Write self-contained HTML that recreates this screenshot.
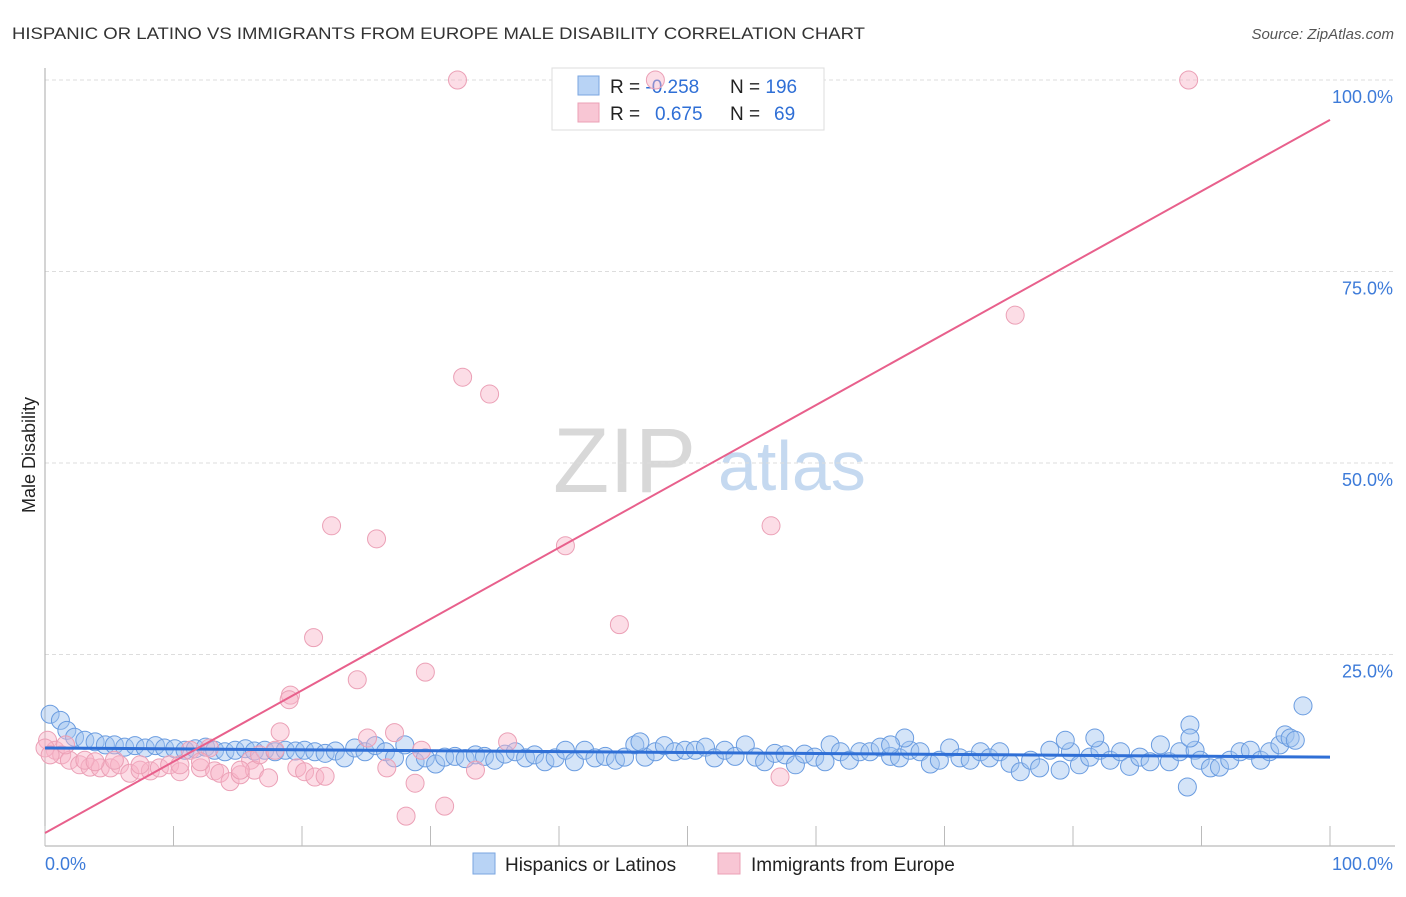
<!DOCTYPE html>
<html><head><meta charset="utf-8"><style>
body{margin:0;background:#fff;font-family:"Liberation Sans",sans-serif;}
svg text{font-family:"Liberation Sans",sans-serif;}
</style></head><body>
<svg id="chart" width="1406" height="892" viewBox="0 0 1406 892" xmlns="http://www.w3.org/2000/svg">
<text x="12" y="39" font-size="17" fill="#333" textLength="853" lengthAdjust="spacingAndGlyphs">HISPANIC OR LATINO VS IMMIGRANTS FROM EUROPE MALE DISABILITY CORRELATION CHART</text>
<text x="1394" y="39" font-size="15" fill="#555" font-style="italic" text-anchor="end">Source: ZipAtlas.com</text>
<g>
<text x="553" y="492" font-size="92" fill="#d8d8d8" font-family="Liberation Serif,serif">ZIP</text>
<text x="718" y="490" font-size="70" fill="#c5d9f0">atlas</text>
</g>
<g id="grid"></g>
<g id="axes"></g>
<g>
<rect x="552" y="68" width="272" height="62" fill="#fff" stroke="#ddd"/>
<rect x="578" y="76" width="21" height="19" fill="#b8d3f5" stroke="#7aa6e0"/>
<rect x="578" y="103" width="21" height="19" fill="#f8c6d4" stroke="#eba0b6"/>
<text x="610" y="93" font-size="19" fill="#222">R = <tspan fill="#2f6fd6">-0.258</tspan><tspan x="730">N = </tspan><tspan fill="#2f6fd6">196</tspan></text>
<text x="610" y="120" font-size="19" fill="#222">R = <tspan x="655" fill="#2f6fd6">0.675</tspan><tspan x="730">N = </tspan><tspan x="774" fill="#2f6fd6">69</tspan></text>
</g>
<g id="blue"></g>
<g id="pink"></g>
<g id="trends"></g>
<text x="35" y="455" font-size="18" fill="#222" transform="rotate(-90 35 455)" text-anchor="middle">Male Disability</text>
<g>
<rect x="473" y="853" width="22" height="21" fill="#b8d3f5" stroke="#7aa6e0"/>
<text x="505" y="871" font-size="19" fill="#222">Hispanics or Latinos</text>
<rect x="718" y="853" width="22" height="21" fill="#f8c6d4" stroke="#eba0b6"/>
<text x="751" y="871" font-size="19" fill="#222">Immigrants from Europe</text>
</g>
</svg>
<script>
const blueX=[0.4,1.2,1.7,2.3,3.1,3.9,4.7,5.4,6.2,7.0,7.8,8.6,9.3,10.1,10.9,11.7,12.5,13.2,14.0,14.8,15.6,16.3,17.1,17.9,18.7,19.5,20.2,21.0,21.8,22.6,23.3,24.1,24.9,25.7,26.5,27.2,28.0,28.8,29.6,30.4,31.1,31.9,32.7,33.5,34.2,35.0,35.8,36.6,37.4,38.1,38.9,39.7,40.5,41.2,42.0,42.8,43.6,44.4,45.1,45.9,46.7,47.5,48.2,49.0,49.8,50.6,51.4,52.1,52.9,53.7,54.5,55.3,56.0,56.8,57.6,58.4,59.1,59.9,60.7,61.1,61.9,62.6,63.4,64.2,65.0,65.8,66.5,67.3,68.1,68.9,69.6,70.4,71.2,72.0,72.8,73.5,74.3,75.1,75.9,76.7,77.4,78.2,79.0,79.8,80.5,81.3,82.1,82.9,83.7,84.4,85.2,86.0,86.8,87.5,88.3,88.9,89.1,89.5,89.9,90.7,91.4,92.2,93.0,93.8,94.6,95.3,96.1,96.5,96.9,97.3,97.9,89.1,79.4,81.7,66.9,65.8,46.3];
const blueY=[17.2,16.4,15.1,14.2,13.8,13.6,13.2,13.2,12.9,13.1,12.8,13.1,12.8,12.7,12.5,12.7,12.9,12.5,12.3,12.5,12.7,12.4,12.5,12.3,12.5,12.4,12.5,12.3,12.1,12.4,11.5,12.8,12.3,13.1,12.3,11.5,13.2,11.0,11.5,10.7,11.6,11.7,11.4,11.9,11.7,11.2,12.0,12.3,11.5,11.9,11.0,11.5,12.5,11.0,12.5,11.5,11.7,11.2,11.6,13.2,11.6,12.3,13.1,12.3,12.5,12.5,12.9,11.5,12.5,11.7,13.2,11.6,11.0,12.1,11.9,10.6,12.0,11.6,11.0,13.2,12.3,11.2,12.3,12.3,12.9,11.7,11.5,12.5,12.3,10.7,11.2,12.8,11.5,11.2,12.3,11.5,12.3,10.8,9.7,11.2,10.2,12.5,9.9,12.3,10.6,11.6,12.5,11.2,12.3,10.4,11.6,11.0,13.2,11.0,12.3,7.7,15.8,12.5,11.2,10.2,10.3,11.2,12.3,12.5,11.2,12.3,13.2,14.5,14.1,13.8,18.3,14.1,13.8,14.1,14.1,13.2,13.6];
const pinkX=[0.2,0.8,1.3,1.9,2.7,3.5,4.3,5.1,5.8,6.6,7.4,8.2,8.9,9.7,10.5,11.3,12.1,12.8,13.2,13.6,14.4,15.2,16.0,16.3,16.7,17.4,17.9,18.3,19.1,19.0,19.6,20.2,21.0,21.8,20.9,22.3,24.3,25.1,25.8,26.6,27.2,28.1,28.8,29.6,29.3,31.1,32.1,32.5,33.5,34.6,36.0,40.5,44.7,47.5,56.5,57.2,75.5,89.0,0,0.4,1.6,3.1,3.9,7.4,10.5,12.1,15.2,5.4];
const pinkY=[13.8,12.5,11.9,11.2,10.6,10.3,10.2,10.2,10.6,9.5,9.9,9.8,10.2,10.6,9.7,12.5,10.2,12.8,9.8,9.5,8.4,9.3,11.2,9.9,11.9,8.9,12.5,14.9,19.7,19.1,10.2,9.7,9.0,9.1,27.2,41.8,21.7,14.1,40.1,10.2,14.8,3.9,8.2,22.7,12.5,5.2,100,61.2,9.9,59.0,13.6,39.2,28.9,100,41.8,9.0,69.3,100,12.8,11.9,13.2,11.2,11.0,10.6,10.6,11.0,9.9,11.2];
const blueTrend=[12.8,11.6];
const pinkTrend=[1.7,94.8];
const yTicks=[25,50,75,100];
const yTickLabels=["25.0%","50.0%","75.0%","100.0%"];
const xTicks=[0,10,20,30,40,50,60,70,80,90,100];
const X0=45,X1=1330,Y0=846,Y1=80;
const sx=v=>X0+(X1-X0)*v/100, sy=v=>Y0-(Y0-Y1)*v/100;
const NS="http://www.w3.org/2000/svg";
function mk(tag,attrs,parent){const e=document.createElementNS(NS,tag);for(const k in attrs)e.setAttribute(k,attrs[k]);parent.appendChild(e);return e;}
const grid=document.getElementById('grid'),axes=document.getElementById('axes');
yTicks.forEach((t,i)=>{
 const l=mk('line',{x1:X0,x2:1395,y1:sy(t),y2:sy(t),stroke:'#ddd','stroke-dasharray':'4,3'},grid);
 
 
 const tx=mk('text',{x:1393,y:sy(t)+23,'font-size':18,fill:'#3d7bd9','text-anchor':'end'},axes);
 tx.textContent=yTickLabels[i];
 
 
});
const ya=mk('line',{x1:X0,x2:X0,y1:68,y2:Y0,stroke:'#aaa'},axes);


const xa=mk('line',{x1:X0,x2:1395,y1:Y0,y2:Y0,stroke:'#aaa'},axes);


xTicks.forEach(t=>{
 const l=mk('line',{x1:sx(t),x2:sx(t),y1:Y0-20,y2:Y0,stroke:'#bbb'},axes);
 
 
});
[[0,'0.0%','start',45],[100,'100.0%','end',1393]].forEach(a=>{
 const tx=mk('text',{x:a[3],y:870,'font-size':18,fill:'#3d7bd9','text-anchor':a[2]},axes);
 tx.textContent=a[1];
 
 
});
const bg=document.getElementById('blue'),pg=document.getElementById('pink');
blueX.forEach((x,i)=>{
 const c=mk('circle',{cx:sx(x),cy:sy(blueY[i]),r:9,fill:'rgba(160,196,240,0.45)',stroke:'#6a9ce0','stroke-width':1},bg);
 
 
});
pinkX.forEach((x,i)=>{
 const c=mk('circle',{cx:sx(x),cy:sy(pinkY[i]),r:9,fill:'rgba(248,180,200,0.45)',stroke:'#eba0b6','stroke-width':1},pg);
 
 
});
const tg=document.getElementById('trends');
const bl=mk('line',{x1:sx(0),y1:sy(blueTrend[0]),x2:sx(100),y2:sy(blueTrend[1]),stroke:'#2f6fd6','stroke-width':3},tg);


const pl=mk('line',{x1:sx(0),y1:sy(pinkTrend[0]),x2:sx(100),y2:sy(pinkTrend[1]),stroke:'#e8608c','stroke-width':2},tg);


</script>
</body></html>
